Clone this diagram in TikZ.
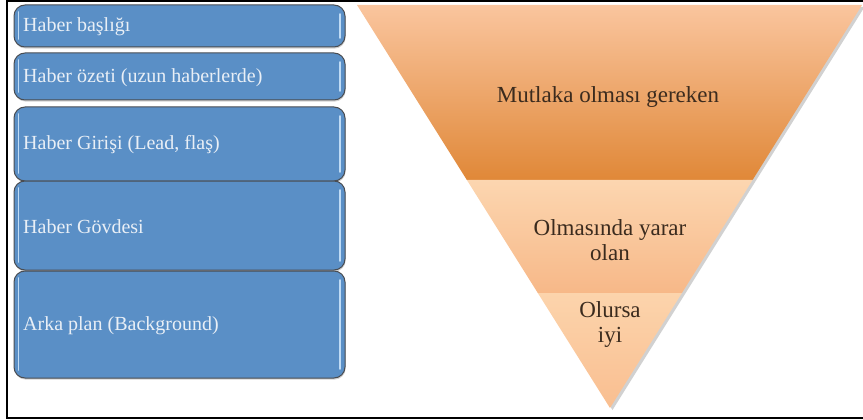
\documentclass[tikz,border=0pt]{standalone}
\usepackage{fontspec}
\setmainfont{Liberation Serif}
\usetikzlibrary{calc,shadows}

\definecolor{boxblue}{HTML}{5A8FC6}
\definecolor{boxline}{HTML}{4A4D52}
\definecolor{boxshine}{HTML}{BFDBF5}
\definecolor{boxtxt}{HTML}{E9EFF6}
\definecolor{funneltxt}{HTML}{3B2B1E}

\begin{document}
\begin{tikzpicture}[x=1pt, y=-1pt,
	newsbox/.style={draw=boxline, fill=boxblue, rounded corners=11pt, line width=1pt,
		drop shadow={shadow xshift=0.6pt, shadow yshift=-1.6pt, opacity=0.35}},
	shine/.style={boxshine, line width=1.6pt, line cap=round},
	boxlabel/.style={anchor=west, text=boxtxt, inner sep=0pt, font=\fontsize{20}{22}\selectfont},
	funnellabel/.style={text=funneltxt, align=center, font=\fontsize{23}{25}\selectfont}]
\useasboundingbox (0,0) rectangle (863,420);

%frame
	\draw[line width=1.3pt] (875,1) -- (7,1) -- (7,418) -- (875,418);

%boxes
	\foreach \t/\b/\name/\txt in {5/47/baslik/{Haber başlığı}, 53/100/ozet/{Haber özeti (uzun haberlerde)},
		107/181/giris/{Haber Girişi (Lead, flaş)}, 181/270/govde/{Haber Gövdesi},
		271/378/arka/{Arka plan (Background)}}{
		\draw[newsbox] (14,\t) rectangle (345,\b);
		\draw[shine] (18.5,\t+7) -- (18.5,\b-8);
		\draw[shine] (340,\t+9) -- (340,\b-9);
		\node[boxlabel] (\name) at (23,{(\t+\b)/2+1}) {\txt};
	}

%funnel
	\coordinate (tl) at (357,5);
	\coordinate (tr) at (862,5);
	\coordinate (apex) at (610,408);
	\coordinate (l1) at ($(tl)!0.434!(apex)$);
	\coordinate (r1) at ($(tr)!0.434!(apex)$);
	\coordinate (l2) at ($(tl)!0.715!(apex)$);
	\coordinate (r2) at ($(tr)!0.715!(apex)$);

	% soft shadow
	\fill[black, opacity=0.18] ([shift={(2.5,2)}]tl) -- ([shift={(2.5,2)}]tr) -- ([shift={(2.5,2)}]apex) -- cycle;

	\shade[top color={rgb,255:red,250;green,197;blue,158}, bottom color={rgb,255:red,224;green,136;blue,56}]
		(tl) -- (tr) -- (r1) -- (l1) -- cycle;
	\shade[top color={rgb,255:red,252;green,214;blue,176}, bottom color={rgb,255:red,247;green,184;blue,136}]
		(l1) -- (r1) -- (r2) -- (l2) -- cycle;
	\shade[top color={rgb,255:red,252;green,212;blue,172}, bottom color={rgb,255:red,249;green,190;blue,144}]
		(l2) -- (r2) -- (apex) -- cycle;

	\node[funnellabel] (must) at (608,97) {Mutlaka olması gereken};
	\node[funnellabel] (useful) at (610,240) {Olmasında yarar\\olan};
	\node[funnellabel] (good) at (610,325) {Olursa\\iyi};

\end{tikzpicture}
\end{document}
